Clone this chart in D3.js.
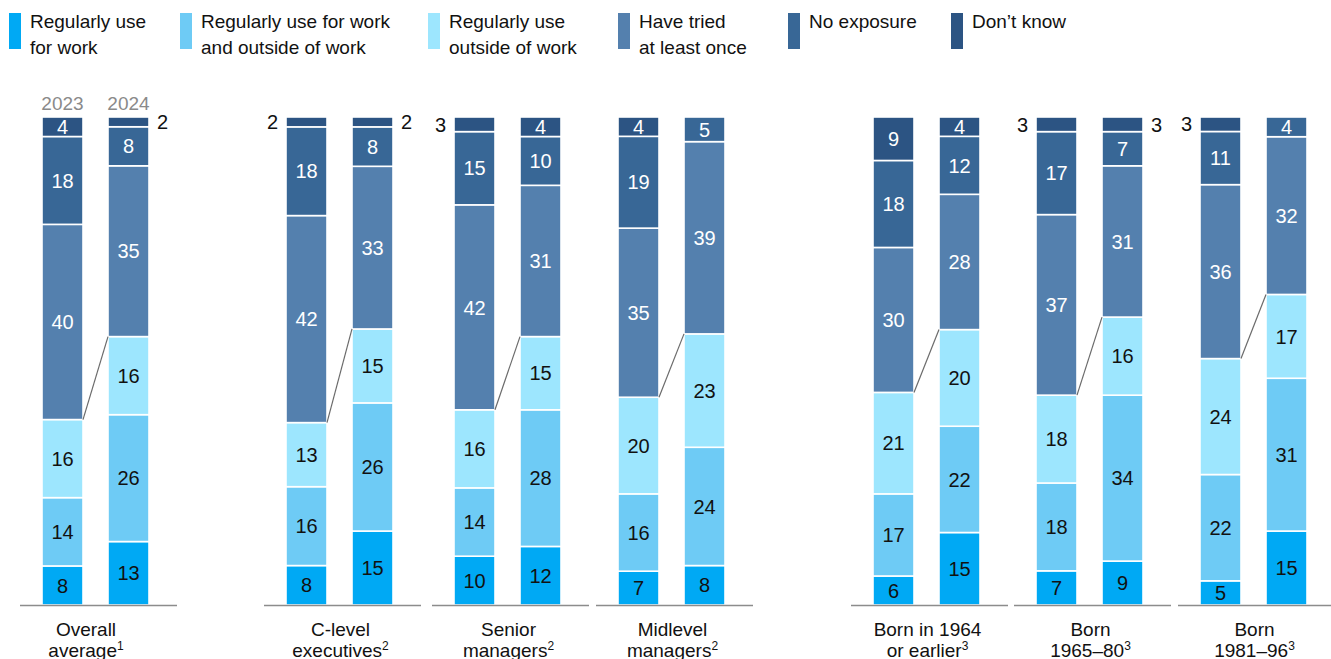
<!DOCTYPE html>
<html>
<head>
<meta charset="utf-8">
<script src="https://cdn.jsdelivr.net/npm/d3@7"></script>
<style>
  html, body { margin: 0; padding: 0; background: #fff; }
  svg { display: block; font-family: "Liberation Sans", Arial, Helvetica, sans-serif; }
</style>
</head>
<body>
<svg id="chart" width="1331" height="659"></svg>
<script>
// ---------------- DATA ----------------
const categoryLine1 = ["Overall", "C-level", "Senior", "Midlevel", "Born in 1964", "Born", "Born"];
const categoryLine2 = ["average", "executives", "managers", "managers", "or earlier", "1965\u201380", "1981\u201396"];
const categoryNote = ["1", "2", "2", "2", "3", "3", "3"];
const years = ["2023", "2024"];
const seriesKeys = ["workOnly", "workAndOutside", "outsideOnly", "triedOnce", "noExposure", "dontKnow"];
const seriesLabels = [
  ["Regularly use", "for work"],
  ["Regularly use for work", "and outside of work"],
  ["Regularly use", "outside of work"],
  ["Have tried", "at least once"],
  ["No exposure"],
  ["Don\u2019t know"]
];
const seriesColors = ["#00a9f4", "#6ecbf5", "#9de6fe", "#5480ae", "#386796", "#2c5483"];

const workOnly2023       = [8, 8, 10, 7, 6, 7, 5];
const workOnly2024       = [13, 15, 12, 8, 15, 9, 15];
const workAndOutside2023 = [14, 16, 14, 16, 17, 18, 22];
const workAndOutside2024 = [26, 26, 28, 24, 22, 34, 31];
const outsideOnly2023    = [16, 13, 16, 20, 21, 18, 24];
const outsideOnly2024    = [16, 15, 15, 23, 20, 16, 17];
const triedOnce2023      = [40, 42, 42, 35, 30, 37, 36];
const triedOnce2024      = [35, 33, 31, 39, 28, 31, 32];
const noExposure2023     = [18, 18, 15, 19, 18, 17, 11];
const noExposure2024     = [8, 8, 10, 5, 12, 7, 4];
const dontKnow2023       = [4, 2, 3, 4, 9, 3, 3];
const dontKnow2024       = [2, 2, 4, 0, 4, 3, 0];

// ---------------- BUILD TABLE ----------------
const byYear = {
  "2023": [workOnly2023, workAndOutside2023, outsideOnly2023, triedOnce2023, noExposure2023, dontKnow2023],
  "2024": [workOnly2024, workAndOutside2024, outsideOnly2024, triedOnce2024, noExposure2024, dontKnow2024]
};
const rows = [];
categoryLine1.forEach((c, i) => {
  years.forEach(y => {
    const r = { cat: i, year: y };
    seriesKeys.forEach((k, s) => { r[k] = byYear[y][s][i]; });
    rows.push(r);
  });
});

const stacked = d3.stack().keys(seriesKeys).offset(d3.stackOffsetExpand)(rows);

// ---------------- LAYOUT ----------------
const svg = d3.select("#chart");
const groupStarts = [20, 264, 432, 596, 851, 1014, 1178];
const groupWidth = 157;
const gx = d3.scaleOrdinal().domain(d3.range(categoryLine1.length)).range(groupStarts);
const xb = d3.scaleBand().domain(years).range([22, 129]).paddingInner(25 / 66);
const y = d3.scaleLinear().domain([0, 1]).range([605, 117]);
const darkText = new Set(["triedOnce", "noExposure", "dontKnow"]);
const font = 20;

// bars
const layer = svg.append("g");
stacked.forEach((ser, si) => {
  ser.forEach(d => {
    const r = d.data;
    const v = r[ser.key];
    if (!v) return;
    const x0 = gx(r.cat) + xb(r.year);
    const y0 = y(d[1]), y1 = y(d[0]);
    layer.append("rect")
      .attr("x", x0).attr("y", y0)
      .attr("width", xb.bandwidth()).attr("height", Math.max(0, y1 - y0))
      .attr("fill", seriesColors[si])
      .attr("stroke", "#fff").attr("stroke-width", 1.6);
  });
});

// connectors between cumulative "regularly use" tops
const topRegular = stacked[2];
categoryLine1.forEach((c, i) => {
  const a = topRegular.find(d => d.data.cat === i && d.data.year === "2023");
  const b = topRegular.find(d => d.data.cat === i && d.data.year === "2024");
  svg.append("line")
    .attr("x1", gx(i) + xb("2023") + xb.bandwidth()).attr("y1", y(a[1]))
    .attr("x2", gx(i) + xb("2024")).attr("y2", y(b[1]))
    .attr("stroke", "#6b6b6b").attr("stroke-width", 1.2);
});

// labels
stacked.forEach((ser, si) => {
  ser.forEach(d => {
    const r = d.data;
    const v = r[ser.key];
    if (!v) return;
    const x0 = gx(r.cat) + xb(r.year);
    const yc = (y(d[0]) + y(d[1])) / 2;
    if (v >= 4) {
      svg.append("text")
        .attr("x", x0 + xb.bandwidth() / 2).attr("y", yc)
        .attr("dy", "0.36em").attr("text-anchor", "middle")
        .attr("font-size", font)
        .attr("fill", darkText.has(ser.key) ? "#fff" : "#111")
        .text(v);
    } else {
      const left = r.year === "2023";
      svg.append("text")
        .attr("x", left ? x0 - 8 : x0 + xb.bandwidth() + 8).attr("y", yc)
        .attr("dy", "0.36em").attr("text-anchor", left ? "end" : "start")
        .attr("font-size", font).attr("fill", "#111")
        .text(v);
    }
  });
});

// year labels (first group only)
years.forEach(yr => {
  svg.append("text")
    .attr("x", gx(0) + xb(yr) + xb.bandwidth() / 2).attr("y", 110)
    .attr("text-anchor", "middle").attr("font-size", 19).attr("fill", "#8a8a8a")
    .text(yr);
});

// axis baselines and category labels
categoryLine1.forEach((c, i) => {
  svg.append("line")
    .attr("x1", gx(i)).attr("x2", gx(i) + groupWidth)
    .attr("y1", 605.5).attr("y2", 605.5)
    .attr("stroke", "#8c8c8c").attr("stroke-width", 1.5);
  const cx = gx(i) + (i === 0 ? 66 : groupWidth / 2 - 2);
  svg.append("text").attr("x", cx).attr("y", 636)
    .attr("text-anchor", "middle").attr("font-size", 19).attr("fill", "#111")
    .text(c);
  const t = svg.append("text").attr("x", cx).attr("y", 657)
    .attr("text-anchor", "middle").attr("font-size", 19).attr("fill", "#111");
  t.append("tspan").text(categoryLine2[i]);
  t.append("tspan").attr("font-size", 12).attr("dy", -7).text(categoryNote[i]);
});

// legend
const legendX = [9, 180, 428, 618, 788, 951];
seriesLabels.forEach((lines, i) => {
  const g = svg.append("g").attr("transform", `translate(${legendX[i]},0)`);
  g.append("rect").attr("x", 0).attr("y", 13).attr("width", 12).attr("height", 36)
    .attr("fill", seriesColors[i]);
  lines.forEach((ln, j) => {
    g.append("text").attr("x", 21).attr("y", 28 + j * 26)
      .attr("font-size", 19).attr("fill", "#111").text(ln);
  });
});
</script>
</body>
</html>
